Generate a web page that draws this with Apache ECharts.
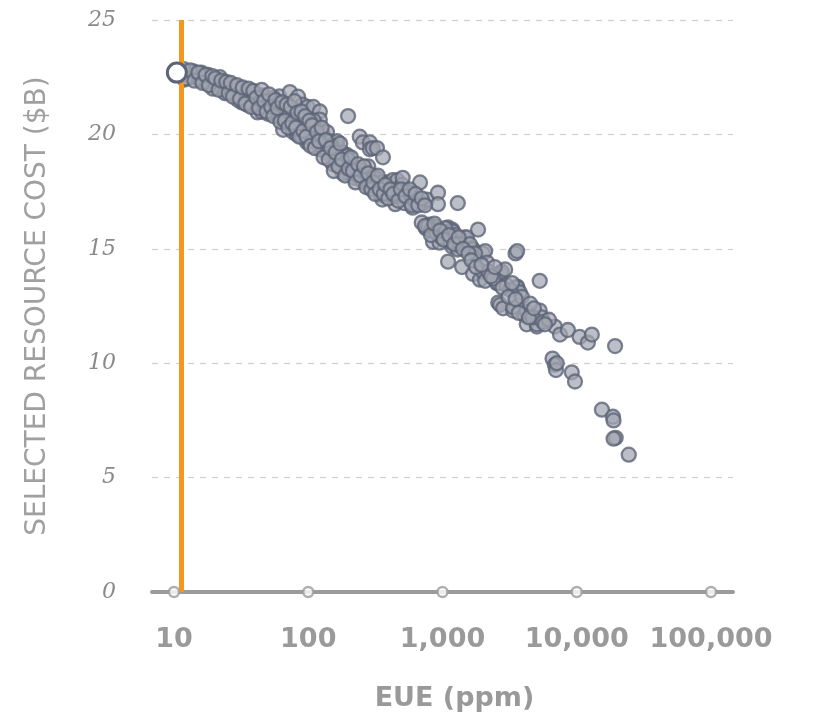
<!DOCTYPE html>
<html>
<head>
<meta charset="utf-8">
<script src="https://cdn.jsdelivr.net/npm/echarts@6/dist/echarts.min.js"></script>
<style>html,body{margin:0;padding:0;background:#fff}#c{width:815px;height:716px}</style>
</head>
<body>
<div id="c"></div>
<script>
// EUE (ppm) and selected resource cost ($B) of each scenario
const eue = [
 11.5,12,12.5,13,13.5,14,14.5,15,15.5,16,16.5,17,17.5,18,18.5,19,20,20.5,21,22,23,23.5,24,25,26,27,28,29,30,31,32,33,34,35,36,37,38,40,41,42,42,44,45,46,48,50,52,54,56,58,60,61,63,65,66,68,70,72,73,75,77,78,80,82,84,85,88,90,91,94,96,98,99,100,105,109,110,115,118,122,122,122,125,128,132,138,140,145,150,152,155,158,164,164,170,175,180,185,194,194,194,198,204,210,220,230,242,242,250,255,255,265,275,288,288,288,288,300,302,310,325,325,345,357,360,370,380,400,425,445,460,460,480,500,505,540,560,600,600,640,680,700,720,765,800,850,880,880,925,925,950,1000,1050,1100,1100,1180,1180,1200,1300,1300,1400,1460,1520,1670,1690,1690,1840,1900,2000,2000,2080,2080,2150,2540,2600,2600,2680,2680,2770,2830,2930,3360,3360,3500,3600,3600,3600,3760,4090,4240,4240,5050,5050,5300,5300,5480,6870,7500,8590,10500,12100,12950,19300,6600,6870,7000,7100,9180,9700,15400,18600,18800,19500,18800,24400,
 320,350,390,420,450,520,550,580,620,650,750,780,820,900,980,1050,1150,1250,1350,1600,1750,2200,2400,3000,3200,3900,4500,4700,5600,6200,
 12,14,16,18,19.5,22,24,28,30,35,38,45,50,55,60,70,80,90,100,110,130,150,160,180,200,230,260,280,
 11.8,12.3,13.2,14.2,15.2,16.3,17.2,18.2,19.3,20.3,21.5,22.5,24.5,25.5,26.5,27.5,29.5,31,32.5,34,36,37.5,39,41,43,45,47,49,51,53,55,57,59,62,64,67,69,71,74,76,79,81,83,86,89,92,95,97,102,104,107,112,116,120,126,130,135,142,147,155,160,168,173,178,188,200,208,215,225,235,245,260,270,280,295,305,315,330,340,365,375,395,410,430,470,490,530,570,590,630,660,700,740,
 740,820,870,960,1020,1120,1220,1320,1420,1560,1640,1780,1950,2300,2450,2800,3100,3300,3500,3700,4400,4800,5800
];
const cost = [
 22.65,22.6,22.7,22.55,22.65,22.5,22.6,22.45,22.55,22.4,22.5,22.3,22.45,22.35,22.2,22.4,22.25,22.1,22.3,22.15,22.0,22.2,21.95,22.1,21.85,22.0,21.8,21.95,21.7,21.9,21.4,21.75,21.6,21.85,21.5,21.7,21.45,21.75,21.3,21.55,20.96,21.4,21.7,21.2,21.5,21.35,21.1,21.45,20.9,21.3,21.0,21.66,20.7,20.2,21.2,20.9,20.5,21.0,21.85,20.7,20.1,20.4,20.9,20.0,21.65,20.6,20.3,20.8,21.3,20.1,20.5,19.65,21.2,20.3,20.0,21.2,19.8,20.4,19.6,21.0,20.65,19.35,19.9,20.0,19.5,20.1,19.2,19.7,19.0,18.7,19.4,18.8,19.5,19.7,19.0,18.6,19.2,18.4,19.1,19.05,18.45,20.8,18.3,18.7,18.1,18.5,19.9,18.55,18.0,19.65,18.25,18.4,17.9,19.65,19.35,18.0,17.7,18.2,19.4,17.8,19.4,17.7,17.35,17.15,19.0,17.6,17.9,17.5,18.0,16.95,18.0,17.6,17.3,17.8,18.1,17.45,17.2,16.8,17.3,17.1,17.9,16.15,17.0,17.15,16.06,15.3,15.85,15.97,17.45,16.95,15.27,15.7,15.5,15.93,14.44,15.84,15.1,15.75,17.0,14.97,14.2,15.5,15.5,15.0,14.97,13.9,15.84,13.65,14.8,14.0,14.9,13.6,14.4,13.5,13.5,12.65,13.95,12.55,14.0,12.4,14.1,12.3,12.45,14.8,14.9,13.35,13.3,13.1,12.1,11.7,12.25,11.6,11.7,13.6,12.3,12.0,11.6,11.25,11.45,11.15,10.9,11.25,10.75,10.2,9.93,9.7,10.0,9.6,9.2,7.97,7.66,7.5,6.74,6.7,6.0,
 18.1,17.9,17.4,17.5,17.3,17.0,17.5,17.0,17.1,17.0,15.9,16.0,15.8,15.7,15.5,15.9,15.3,15.6,15.2,15.2,14.8,14.0,13.7,13.4,13.2,12.9,12.6,12.0,11.8,11.9,
 22.4,22.75,22.7,22.6,22.0,22.5,21.8,22.1,21.5,21.3,21.9,21.0,20.9,21.6,21.4,21.1,20.2,19.9,19.7,20.6,19.3,19.5,18.9,18.3,18.9,18.2,17.9,18.6,
 22.85,22.45,22.8,22.35,22.7,22.25,22.6,22.15,22.55,22.45,21.95,22.35,22.3,21.8,22.25,21.65,22.15,21.55,22.05,21.35,22.0,21.2,21.9,21.6,21.15,21.95,21.45,21.0,21.75,21.2,20.8,21.5,21.15,20.55,21.4,20.6,21.3,20.3,21.2,20.5,21.45,20.3,20.95,19.9,21.0,20.15,20.8,19.9,20.6,19.5,20.4,19.4,20.1,19.7,20.3,19.0,19.75,18.9,19.4,18.4,19.2,18.6,19.6,18.9,18.2,18.5,19.0,18.4,17.9,18.7,18.2,18.6,17.7,18.3,17.6,17.9,17.4,18.2,17.6,17.4,17.8,17.2,17.6,17.4,17.1,17.6,17.3,17.6,16.9,17.4,16.9,17.2,16.9,
 16.0,15.6,16.1,15.8,15.4,15.6,15.2,15.5,15.0,14.8,14.5,14.2,14.3,13.8,14.2,13.3,12.9,13.5,12.8,12.2,12.0,12.4,11.7
];
// highlighted (selected) scenario
const selectedEue = [10.5];
const selectedCost = [22.7];
// EUE threshold marked by the orange line
const thresholdEue = 11.3;
// x tick positions (ppm) and y range
const xTicks = [10, 100, 1000, 10000, 100000];
const yMin = 0, yMax = 25, yStep = 5;

const points = eue.map((v, i) => [v, cost[i]]);
const sel = selectedEue.map((v, i) => [v, selectedCost[i]]);
const tickMarks = xTicks.map(v => [v, 0]);

const chart = echarts.init(document.getElementById('c'));
const pxPerDecade = 134.3, pad = 22;
chart.setOption({
  animation: false,
  grid: { left: 152, right: 82, top: 20, bottom: 124, containLabel: false, outerBoundsMode: 'none' },
  xAxis: {
    type: 'log', logBase: 10,
    min: Math.pow(10, 1 - pad / pxPerDecade),
    max: Math.pow(10, 5 + pad / pxPerDecade),
    name: 'EUE (ppm)', nameLocation: 'middle', nameGap: 93,
    nameTextStyle: { color: '#999', fontFamily: 'DejaVu Sans', fontWeight: 'bold', fontSize: 27, padding: [0, 0, 0, 24] },
    axisLine: { show: true, lineStyle: { color: '#9b9b9b', width: 4 } },
    axisTick: { show: false },
    splitLine: { show: false },
    axisLabel: {
      margin: 34, color: '#9a9a9a', fontFamily: 'DejaVu Sans', fontWeight: 'bold', fontSize: 27,
      showMinLabel: false, showMaxLabel: false,
      formatter: v => {
        const l = Math.log10(v);
        return Math.abs(l - Math.round(l)) < 1e-6 ? Math.round(v).toLocaleString('en-US') : '';
      }
    }
  },
  yAxis: {
    type: 'value', min: yMin, max: yMax, interval: yStep,
    name: 'SELECTED RESOURCE COST ($B)', nameLocation: 'middle', nameGap: 100, nameRotate: 90,
    nameTextStyle: { color: '#a0a0a0', fontFamily: 'DejaVu Sans', fontSize: 28 },
    axisLine: { show: false }, axisTick: { show: false },
    axisLabel: { margin: 36, color: '#8a8a8a', fontFamily: 'DejaVu Serif', fontStyle: 'italic', fontSize: 22 },
    splitLine: { show: true, lineStyle: { color: '#cfcfcf', width: 1.2, type: [6, 6] } }
  },
  series: [
    {
      type: 'line', data: [], silent: true,
      markLine: {
        symbol: 'none', silent: true, label: { show: false },
        lineStyle: { color: '#f5961e', width: 5, type: 'solid' },
        data: [[{ coord: [thresholdEue, yMin] }, { coord: [thresholdEue, yMax] }]]
      }
    },
    {
      type: 'scatter', data: points, symbolSize: 14,
      itemStyle: { color: 'rgba(162,166,178,0.9)', borderColor: '#5d6477', borderWidth: 2.3 }
    },
    {
      type: 'scatter', data: sel, symbolSize: 19, z: 5,
      itemStyle: { color: '#ffffff', borderColor: '#5d6477', borderWidth: 3, opacity: 1 }
    },
    {
      type: 'scatter', data: tickMarks, symbolSize: 10, clip: false, z: 6,
      itemStyle: { color: '#ffffff', borderColor: '#9b9b9b', borderWidth: 2.5 }
    }
  ]
});
</script>
</body>
</html>
